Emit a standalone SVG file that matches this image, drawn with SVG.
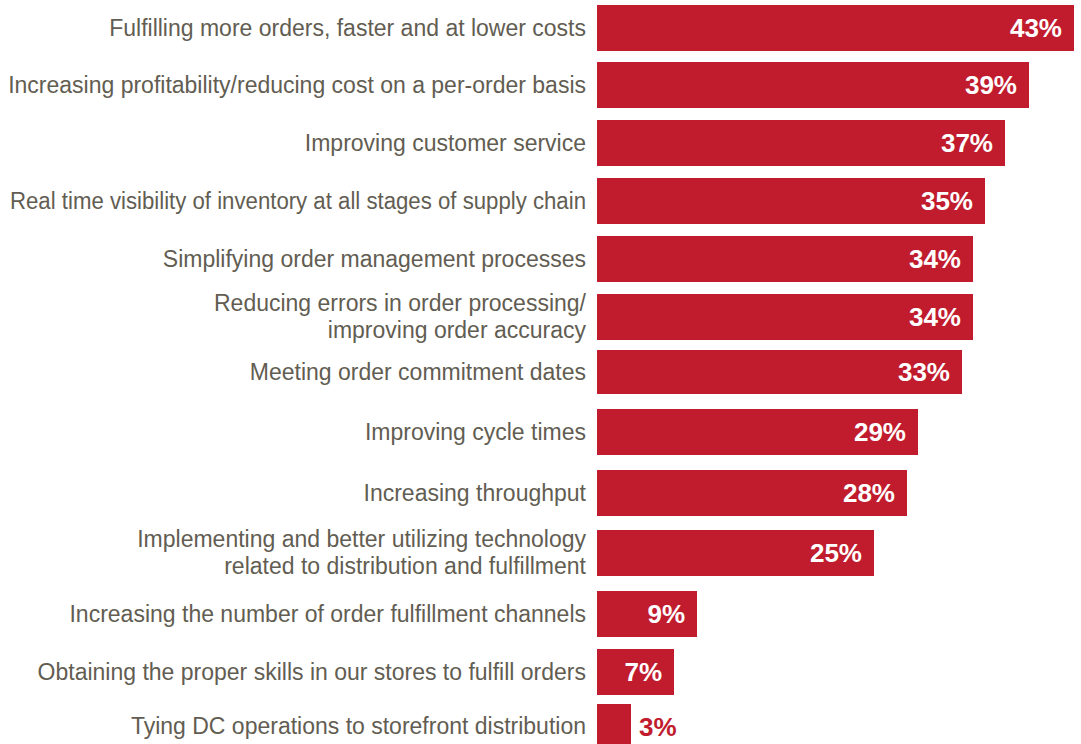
<svg xmlns="http://www.w3.org/2000/svg" width="1081" height="744" viewBox="0 0 1081 744">
<style>
.bar{fill:#C01C2E}
.lbl{font-family:"Liberation Sans",Arial,sans-serif;font-size:23px;fill:#625D52;text-anchor:end}
.val{font-family:"Liberation Sans",Arial,sans-serif;font-size:26px;font-weight:bold;fill:#FFFFFF;text-anchor:end}
.valout{font-family:"Liberation Sans",Arial,sans-serif;font-size:26px;font-weight:bold;fill:#C01C2E;text-anchor:start}
</style>
<rect width="1081" height="744" fill="#FFFFFF"/>
<g id="row1"><rect class="bar" x="597" y="5" width="477" height="46"/><text class="lbl" x="586" y="35.5">Fulfilling more orders, faster and at lower costs</text><text class="val" x="1062" y="37">43%</text></g>
<g id="row2"><rect class="bar" x="597" y="62" width="432" height="46"/><text class="lbl" x="586" y="92.5">Increasing profitability/reducing cost on a per-order basis</text><text class="val" x="1017" y="94">39%</text></g>
<g id="row3"><rect class="bar" x="597" y="120" width="408" height="46"/><text class="lbl" x="586" y="150.5">Improving customer service</text><text class="val" x="993" y="152">37%</text></g>
<g id="row4"><rect class="bar" x="597" y="178" width="388" height="46"/><text class="lbl" x="586" y="208.5" textLength="576" lengthAdjust="spacingAndGlyphs">Real time visibility of inventory at all stages of supply chain</text><text class="val" x="973" y="210">35%</text></g>
<g id="row5"><rect class="bar" x="597" y="236" width="376" height="46"/><text class="lbl" x="586" y="266.5">Simplifying order management processes</text><text class="val" x="961" y="268">34%</text></g>
<g id="row6"><rect class="bar" x="597" y="294" width="376" height="46"/><text class="lbl" x="586" y="310.5">Reducing errors in order processing/</text><text class="lbl" x="586" y="337.5">improving order accuracy</text><text class="val" x="961" y="326">34%</text></g>
<g id="row7"><rect class="bar" x="597" y="350" width="365" height="44"/><text class="lbl" x="586" y="379.5">Meeting order commitment dates</text><text class="val" x="950" y="381">33%</text></g>
<g id="row8"><rect class="bar" x="597" y="409" width="321" height="46"/><text class="lbl" x="586" y="439.5">Improving cycle times</text><text class="val" x="906" y="441">29%</text></g>
<g id="row9"><rect class="bar" x="597" y="470" width="310" height="46"/><text class="lbl" x="586" y="500.5">Increasing throughput</text><text class="val" x="895" y="502">28%</text></g>
<g id="row10"><rect class="bar" x="597" y="530" width="277" height="46"/><text class="lbl" x="586" y="547">Implementing and better utilizing technology</text><text class="lbl" x="586" y="574">related to distribution and fulfillment</text><text class="val" x="862" y="562">25%</text></g>
<g id="row11"><rect class="bar" x="597" y="591" width="100" height="46"/><text class="lbl" x="586" y="621.5">Increasing the number of order fulfillment channels</text><text class="val" x="685" y="623">9%</text></g>
<g id="row12"><rect class="bar" x="597" y="649" width="77" height="46"/><text class="lbl" x="586" y="679.5">Obtaining the proper skills in our stores to fulfill orders</text><text class="val" x="662" y="681">7%</text></g>
<g id="row13"><rect class="bar" x="597" y="704" width="34" height="44"/><text class="lbl" x="586" y="733.5">Tying DC operations to storefront distribution</text><text class="valout" x="639" y="735.5">3%</text></g>
<g id="connectors"/>
</svg>
